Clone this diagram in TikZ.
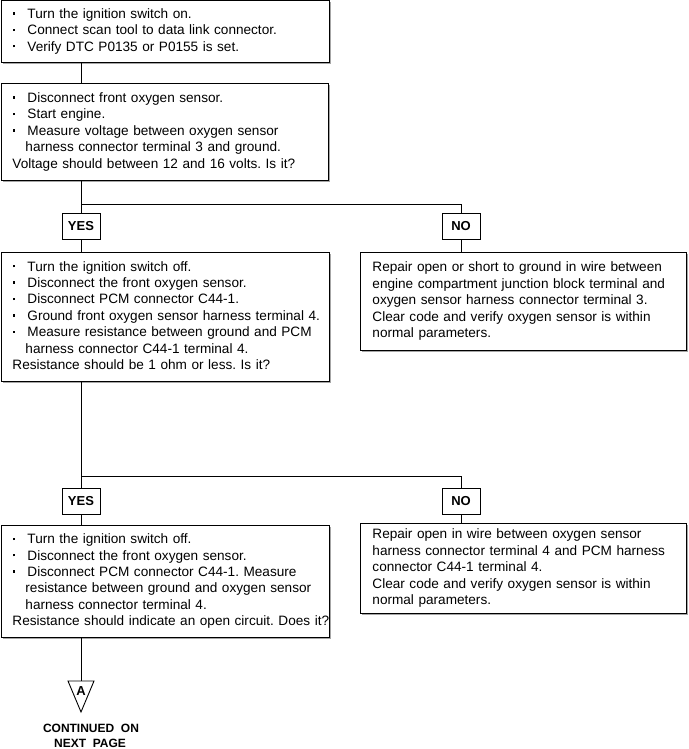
\documentclass[tikz,border=0pt]{standalone}
\usepackage{fontspec}
\setmainfont{Liberation Sans}
\usetikzlibrary{shadows}
\newcommand{\bul}{\makebox[15pt][l]{\hspace{0.3pt}\raisebox{0.27em}{\rule{2.4pt}{2.4pt}}}}
\newcommand{\cont}{\hspace*{13pt}}
\newcommand{\lns}[1]{\begin{tabular}{@{}l@{}}#1\end{tabular}}
\begin{document}
\frenchspacing
\begin{tikzpicture}[x=1pt,y=-1pt,
  box/.style={draw, fill=white, line width=0.9pt, anchor=north west, align=left,
    inner xsep=11pt, inner ysep=0pt, font=\fontsize{13.6}{16.4}\selectfont,
    drop shadow={shadow xshift=1.2pt, shadow yshift=-1.2pt, fill=gray!70, opacity=1}},
  rbox/.style={box, inner xsep=12pt},
  lbl/.style={draw, fill=white, line width=0.9pt, font=\bfseries\fontsize{13}{15}\selectfont,
    minimum width=38pt, minimum height=26pt, inner sep=0pt},
  ln/.style={line width=0.9pt}]
\useasboundingbox (0,0) rectangle (688,749);

\node[box, text width=306pt, minimum height=62pt] (b1) at (1,0)
{\lns{\bul Turn the ignition switch on.\\
 \bul Connect scan tool to data link connector.\\
 \bul Verify DTC P0135 or P0155 is set.}};

\node[box, text width=305pt, minimum height=97pt] (b2) at (1,83)
{\lns{\bul Disconnect front oxygen sensor.\\
 \bul Start engine.\\
 \bul Measure voltage between oxygen sensor\\
 \cont harness connector terminal 3 and ground.\\
 Voltage should between 12 and 16 volts. Is it?}};

\node[lbl] (yes1) at (81,226) {YES};
\node[lbl] (no1) at (461,226) {NO};

\node[box, text width=306pt, minimum height=129pt] (b3) at (1,252)
{\lns{\bul Turn the ignition switch off.\\
 \bul Disconnect the front oxygen sensor.\\
 \bul Disconnect PCM connector C44-1.\\
 \bul Ground front oxygen sensor harness terminal 4.\\
 \bul Measure resistance between ground and PCM\\
 \cont harness connector C44-1 terminal 4.\\
 Resistance should be 1 ohm or less. Is it?}};

\node[rbox, text width=302pt, minimum height=98pt] (r1) at (360,252)
{\lns{Repair open or short to ground in wire between\\
 engine compartment junction block terminal and\\
 oxygen sensor harness connector terminal 3.\\
 Clear code and verify oxygen sensor is within\\
 normal parameters.}};

\node[lbl] (yes2) at (81,501.5) {YES};
\node[lbl] (no2) at (461,501.5) {NO};

\node[box, text width=306pt, minimum height=112pt] (b5) at (1,525)
{\lns{\bul Turn the ignition switch off.\\
 \bul Disconnect the front oxygen sensor.\\
 \bul Disconnect PCM connector C44-1. Measure\\
 \cont resistance between ground and oxygen sensor\\
 \cont harness connector terminal 4.\\
 Resistance should indicate an open circuit. Does it?}};

\node[rbox, text width=302pt, minimum height=90pt] (r2) at (360,523)
{\lns{Repair open in wire between oxygen sensor\\
 harness connector terminal 4 and PCM harness\\
 connector C44-1 terminal 4.\\
 Clear code and verify oxygen sensor is within\\
 normal parameters.}};

% connectors
\coordinate (j1) at (81,204);
\coordinate (k1) at (461,204);
\coordinate (j2) at (81,476);
\coordinate (k2) at (461,476);
\draw[ln] (yes1 |- b1.south) -- (yes1 |- b2.north);
\draw[ln] (yes1 |- b2.south) -- (yes1.north);
\draw[ln] (j1) -- (k1) -- (no1.north);
\draw[ln] (yes1.south) -- (yes1 |- b3.north);
\draw[ln] (no1.south) -- (no1 |- r1.north);
\draw[ln] (yes2 |- b3.south) -- (yes2.north);
\draw[ln] (j2) -- (k2) -- (no2.north);
\draw[ln] (yes2.south) -- (yes2 |- b5.north);
\draw[ln] (no2.south) -- (no2 |- r2.north);

% off-page connector
\coordinate (tl) at (68,681);
\coordinate (tr) at (94,681);
\coordinate (tap) at (81,712);
\draw[ln] (tap |- b5.south) -- (tap |- tl);
\draw[ln] (tl) -- (tr) -- (tap) -- cycle;
\node[font=\bfseries\fontsize{13}{14}\selectfont, inner sep=0pt] (a) at (81,691) {A};
\node[font=\bfseries\fontsize{12}{16}\selectfont, inner sep=0pt, anchor=base] (c1) at (91,732) {CONTINUED\ \ ON};
\node[font=\bfseries\fontsize{12}{16}\selectfont, inner sep=0pt, anchor=base] (c2) at (90,747.5) {NEXT\ \ PAGE};
\end{tikzpicture}
\end{document}
